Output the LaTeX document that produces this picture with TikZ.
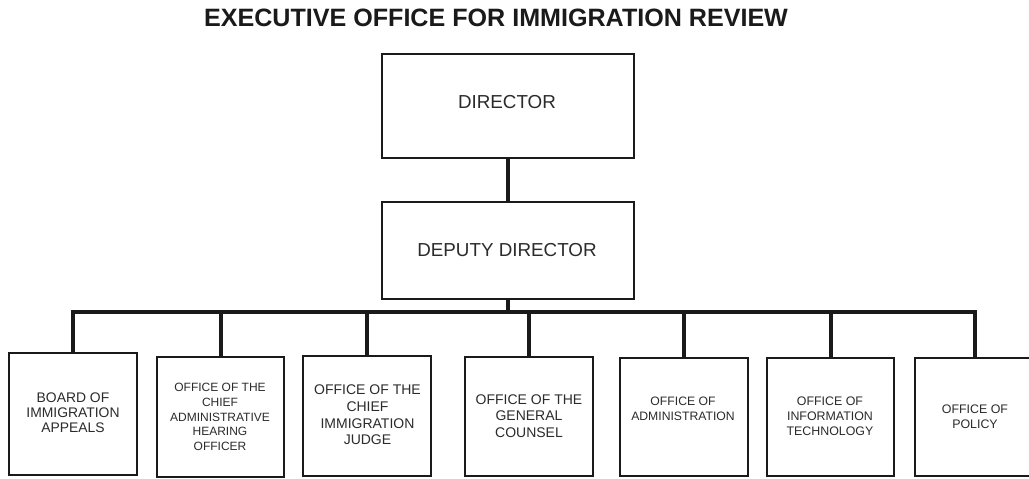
\documentclass[tikz,border=0pt]{standalone}
\usepackage{fontspec}
\setmainfont{Liberation Sans}
\definecolor{ink}{HTML}{1A1A1A}
\definecolor{txt}{HTML}{2B2B2B}
\begin{document}
\begin{tikzpicture}[x=1pt,y=-1pt,
  box/.style={draw=ink,line width=2.8pt,rectangle,inner sep=0pt,fill=white},
  link/.style={draw=ink,line width=4pt,line join=miter,line cap=butt},
  lbl/.style={text=txt,align=center,inner sep=0pt}]
\clip (0,0) rectangle (1029,479);
\fill[white] (0,0) rectangle (1029,479);

% title
\node[lbl,text=ink,font=\fontsize{25.1}{28}\selectfont\bfseries] (title) at (496,18) {EXECUTIVE OFFICE FOR IMMIGRATION REVIEW};

% upper boxes
\node[box,minimum width=252,minimum height=104] (dir) at (508,106) {};
\node[lbl,font=\fontsize{18.8}{22}\selectfont] (tdir) at (507,102) {DIRECTOR};
\node[box,minimum width=252,minimum height=97] (dep) at (508,250.5) {};
\node[lbl,font=\fontsize{18.8}{22}\selectfont] (tdep) at (507,250) {DEPUTY DIRECTOR};

% bus coordinate
\coordinate (bus) at (507,312);

% lower boxes
\node[box,minimum width=128,minimum height=122] (b1) at (73,414) {};
\node[box,minimum width=127,minimum height=120] (b2) at (220.5,417) {};
\node[box,minimum width=128,minimum height=120] (b3) at (367,416) {};
\node[box,minimum width=128,minimum height=119] (b4) at (529,416.5) {};
\node[box,minimum width=128,minimum height=118] (b5) at (684,417) {};
\node[box,minimum width=127,minimum height=118] (b6) at (830.5,417) {};
\node[box,minimum width=120,minimum height=118] (b7) at (975,417) {};

% labels
\node[lbl,font=\fontsize{13.9}{15}\selectfont] (t1) at (73,413) {BOARD OF\\IMMIGRATION\\APPEALS};
\node[lbl,font=\fontsize{12}{14.6}\selectfont] (t2) at (220,417) {OFFICE OF THE\\CHIEF\\ADMINISTRATIVE\\HEARING\\OFFICER};
\node[lbl,font=\fontsize{14}{16.7}\selectfont] (t3) at (367.5,415) {OFFICE OF THE\\CHIEF\\IMMIGRATION\\JUDGE};
\node[lbl,font=\fontsize{14}{16.7}\selectfont] (t4) at (529,416) {OFFICE OF THE\\GENERAL\\COUNSEL};
\node[lbl,font=\fontsize{12.2}{15}\selectfont] (t5) at (683,408.5) {OFFICE OF\\ADMINISTRATION};
\node[lbl,font=\fontsize{12.4}{14.8}\selectfont] (t6) at (830,416) {OFFICE OF\\INFORMATION\\TECHNOLOGY};
\node[lbl,font=\fontsize{12.4}{15}\selectfont] (t7) at (975,417) {OFFICE OF\\POLICY};

% connectors
\draw[link] (dir.south) -- (dep.north);
\draw[link] (dep.south) -- (dep.south |- bus);
\draw[link] (b1.north) -- (b1.north |- bus) -- (b7.north |- bus) -- (b7.north);
\foreach \k in {2,...,6}{\draw[link] (b\k.north) -- (b\k.north |- bus);}
\end{tikzpicture}
\end{document}
